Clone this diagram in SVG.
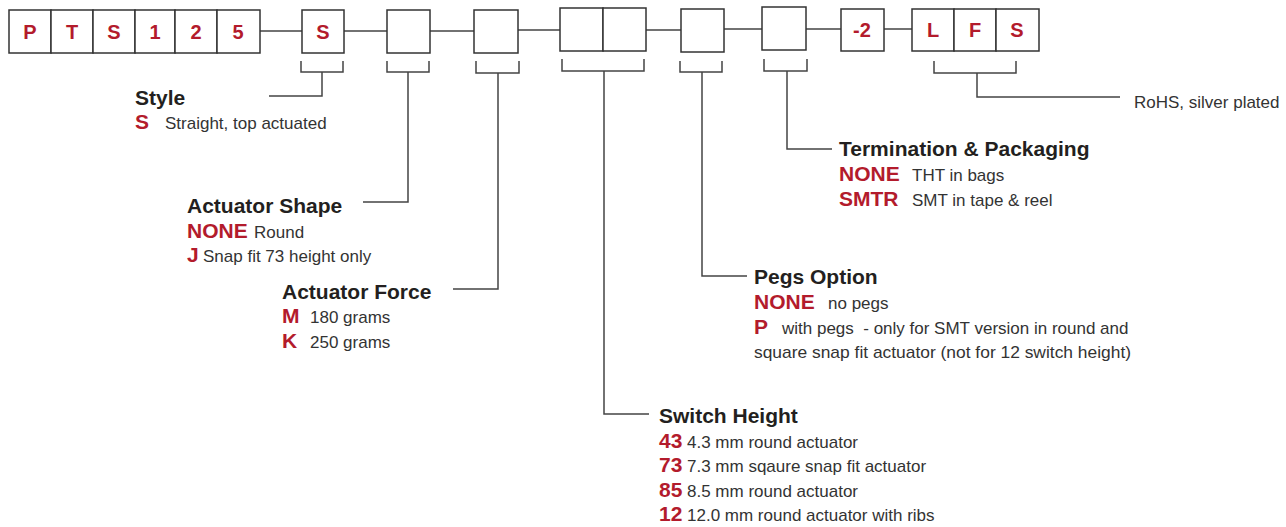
<svg xmlns="http://www.w3.org/2000/svg" width="1286" height="527" viewBox="0 0 1286 527">
<style>
.box{fill:#fff;stroke:#333;stroke-width:1.5}
.ln{fill:none;stroke:#444;stroke-width:1.5}
.bl{font-family:"Liberation Sans",Arial,sans-serif;font-weight:bold;font-size:20px;fill:#b31b2c;text-anchor:middle}
.t{font-family:"Liberation Sans",Arial,sans-serif;font-weight:bold;font-size:21px;fill:#231f20}
.c{font-family:"Liberation Sans",Arial,sans-serif;font-weight:bold;font-size:21px;fill:#b31b2c}
.d{font-family:"Liberation Sans",Arial,sans-serif;font-size:17px;fill:#333}
</style>
<rect width="1286" height="527" fill="#fff"/>
<g id="connectors">
<path class="ln" d="M260 31H302M344 31H387M430 31H474M518 30H560M646 30H681M724 29H762M806 29H841M884 29H912"/>
<path class="ln" d="M301 61V72H343V61M322 72V96H269"/>
<path class="ln" d="M387 61V72H429V61M408 72V202H363"/>
<path class="ln" d="M476 61V73H519V61M498 73V289H453"/>
<path class="ln" d="M562 59V71H644V59M604 71V414H649"/>
<path class="ln" d="M680 61V72H722V61M702 72V276H747"/>
<path class="ln" d="M764 59V71H807V59M787 71V149H832"/>
<path class="ln" d="M934 61V73H1016V61M977 73V97H1120"/>
</g>
<g id="prefix">
<rect class="box" x="9" y="10" width="42" height="43"/>
<rect class="box" x="51" y="10" width="42" height="43"/>
<rect class="box" x="93" y="10" width="42" height="43"/>
<rect class="box" x="135" y="10" width="40" height="43"/>
<rect class="box" x="175" y="10" width="42" height="43"/>
<rect class="box" x="217" y="10" width="43" height="43"/>
<text class="bl" x="30" y="39">P</text>
<text class="bl" x="72" y="39">T</text>
<text class="bl" x="114" y="39">S</text>
<text class="bl" x="155" y="39">1</text>
<text class="bl" x="196" y="39">2</text>
<text class="bl" x="238" y="39">5</text>
</g>
<g id="box-style">
<rect class="box" x="302" y="10" width="42" height="43"/>
<text class="bl" x="323" y="39">S</text>
</g>
<g id="box-shape"><rect class="box" x="387" y="10" width="43" height="43"/></g>
<g id="box-force"><rect class="box" x="474" y="10" width="44" height="43"/></g>
<g id="box-height">
<rect class="box" x="560" y="8" width="43" height="43"/>
<rect class="box" x="603" y="8" width="43" height="43"/>
</g>
<g id="box-pegs"><rect class="box" x="681" y="9" width="43" height="43"/></g>
<g id="box-term"><rect class="box" x="762" y="7" width="44" height="43"/></g>
<g id="box-2">
<rect class="box" x="841" y="9" width="43" height="42"/>
<text class="bl" x="862" y="37">-2</text>
</g>
<g id="box-lfs">
<rect class="box" x="912" y="9" width="42" height="42"/>
<rect class="box" x="954" y="9" width="42" height="42"/>
<rect class="box" x="996" y="9" width="43" height="42"/>
<text class="bl" x="933" y="37">L</text>
<text class="bl" x="975" y="37">F</text>
<text class="bl" x="1017" y="37">S</text>
</g>
<g id="label-style">
<text class="t" x="135" y="105">Style</text>
<text class="c" x="135" y="129">S</text>
<text class="d" x="165" y="129">Straight, top actuated</text>
</g>
<g id="label-shape">
<text class="t" x="187" y="213">Actuator Shape</text>
<text class="c" x="187" y="238">NONE</text>
<text class="d" x="254" y="238">Round</text>
<text class="c" x="187" y="262">J</text>
<text class="d" x="203" y="262">Snap fit 73 height only</text>
</g>
<g id="label-force">
<text class="t" x="282" y="299">Actuator Force</text>
<text class="c" x="282" y="323">M</text>
<text class="d" x="310" y="323">180 grams</text>
<text class="c" x="282" y="348">K</text>
<text class="d" x="310" y="348">250 grams</text>
</g>
<g id="label-term">
<text class="t" x="839" y="156">Termination &amp; Packaging</text>
<text class="c" x="839" y="181">NONE</text>
<text class="d" x="912" y="181">THT in bags</text>
<text class="c" x="839" y="206">SMTR</text>
<text class="d" x="912" y="206">SMT in tape &amp; reel</text>
</g>
<g id="label-pegs">
<text class="t" x="754" y="284">Pegs Option</text>
<text class="c" x="754" y="309">NONE</text>
<text class="d" x="828" y="309">no pegs</text>
<text class="c" x="754" y="334">P</text>
<text class="d" x="782" y="334" xml:space="preserve">with pegs  - only for SMT version in round and</text>
<text class="d" x="754" y="358" textLength="377" lengthAdjust="spacingAndGlyphs">square snap fit actuator (not for 12 switch height)</text>
</g>
<g id="label-height">
<text class="t" x="659" y="423">Switch Height</text>
<text class="c" x="659" y="448">43</text>
<text class="d" x="687" y="448">4.3 mm round actuator</text>
<text class="c" x="659" y="472">73</text>
<text class="d" x="687" y="472">7.3 mm sqaure snap fit actuator</text>
<text class="c" x="659" y="497">85</text>
<text class="d" x="687" y="497">8.5 mm round actuator</text>
<text class="c" x="659" y="521">12</text>
<text class="d" x="687" y="521">12.0 mm round actuator with ribs</text>
</g>
<g id="label-rohs">
<text class="d" x="1134" y="108">RoHS, silver plated</text>
</g>
</svg>
